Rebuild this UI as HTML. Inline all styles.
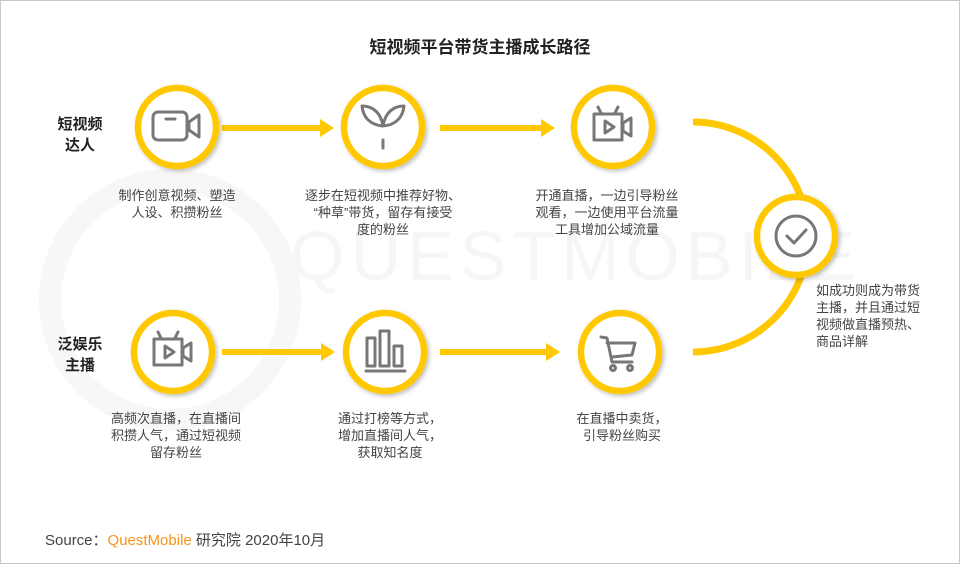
<!DOCTYPE html>
<html><head><meta charset="utf-8"><style>
html,body{margin:0;padding:0;}
body{width:960px;height:564px;position:relative;background:#fff;font-family:"Liberation Sans","Noto Sans CJK SC",sans-serif;overflow:hidden;}
.frame{position:absolute;left:0;top:0;width:958px;height:562px;border:1px solid #c8c8c8;}
.t{position:absolute;color:#444;font-size:13px;line-height:17px;text-align:center;white-space:nowrap;}
.lab{position:absolute;font-size:15px;font-weight:bold;color:#222;line-height:21px;text-align:center;}
</style></head><body>
<div class="frame"></div>
<svg width="960" height="564" style="position:absolute;left:0;top:0">
<defs><filter id="sh" x="-30%" y="-30%" width="160%" height="160%"><feDropShadow dx="2" dy="2" stdDeviation="2" flood-color="#000" flood-opacity="0.25"/></filter></defs>
<circle cx="170" cy="300" r="120" fill="none" stroke="#f7f7f7" stroke-width="22"/>
<text x="290" y="280" font-family="Liberation Sans" font-size="70" fill="#f6f6f6" letter-spacing="6">QUESTMOBILE</text>
<g fill="#FFC800">
<rect x="222" y="125" width="100" height="6"/><polygon points="320,119 334,128 320,137"/>
<rect x="440" y="125" width="103" height="6"/><polygon points="541,119 555,128 541,137"/>
<rect x="222" y="349" width="101" height="6"/><polygon points="321,343 335,352 321,361"/>
<rect x="440" y="349" width="108" height="6"/><polygon points="546,343 560,352 546,361"/>
</g>
<path d="M693,122 A115,115 0 0 1 693,352" fill="none" stroke="#FFC800" stroke-width="7"/>
<g fill="#fff" stroke="#FFC800" stroke-width="6.5" filter="url(#sh)">
<circle cx="177" cy="127" r="39"/><circle cx="383" cy="127" r="39"/><circle cx="613" cy="127" r="39"/>
<circle cx="173" cy="352" r="39"/><circle cx="385" cy="352" r="39"/><circle cx="620" cy="352" r="39"/>
<circle cx="796" cy="236" r="39"/>
</g>
<g fill="none" stroke="#777" stroke-width="3" stroke-linecap="round" stroke-linejoin="round">
<rect x="153" y="112" width="34" height="28" rx="5"/><line x1="166" y1="119" x2="175" y2="119"/><polygon points="189,122 199,115 199,137 189,130"/>
<path d="M383,126 C370,125 363,117 362,106 C373,106 381,113 383,126 C385,113 393,106 404,106 C403,117 396,125 383,126 Z"/><line x1="383" y1="140" x2="383" y2="148"/>
<g id="tv"><rect x="594" y="114" width="28" height="26"/><line x1="601" y1="113" x2="598" y2="107"/><line x1="615" y1="113" x2="618" y2="107"/><polygon points="605,121 614,127 605,133"/><polygon points="623,123 631,118 631,136 623,131"/></g>
<use href="#tv" transform="translate(-440,225)"/>
<rect x="367" y="338" width="8" height="28"/><rect x="380" y="331" width="9" height="35"/><rect x="394" y="346" width="8" height="20"/><line x1="366" y1="371" x2="405" y2="371"/>
<path d="M601,337 L607,338 L612,362 L632,362"/><path d="M607,343 L635,343 L632,355 L612,357"/><circle cx="613" cy="368" r="2.5"/><circle cx="630" cy="368" r="2.5"/>
<circle cx="796" cy="236" r="20"/><polyline points="787,236 794,243 806,230"/>
</g>
</svg>
<div style="position:absolute;left:0;width:960px;top:33px;text-align:center;font-size:17px;font-weight:bold;color:#222;">短视频平台带货主播成长路径</div>
<div class="lab" style="left:45px;top:114px;width:70px">短视频<br>达人</div>
<div class="lab" style="left:45px;top:334px;width:70px">泛娱乐<br>主播</div>
<div class="t" style="left:177px;top:187px;transform:translateX(-50%)">制作创意视频、塑造<br>人设、积攒粉丝</div>
<div class="t" style="left:383px;top:187px;transform:translateX(-50%)">逐步在短视频中推荐好物、<br>“种草”带货，留存有接受<br>度的粉丝</div>
<div class="t" style="left:607px;top:187px;transform:translateX(-50%)">开通直播，一边引导粉丝<br>观看，一边使用平台流量<br>工具增加公域流量</div>
<div class="t" style="left:816px;top:282px;text-align:left">如成功则成为带货<br>主播，并且通过短<br>视频做直播预热、<br>商品详解</div>
<div class="t" style="left:176px;top:410px;transform:translateX(-50%)">高频次直播，在直播间<br>积攒人气，通过短视频<br>留存粉丝</div>
<div class="t" style="left:390px;top:410px;transform:translateX(-50%)">通过打榜等方式，<br>增加直播间人气，<br>获取知名度</div>
<div class="t" style="left:622px;top:410px;transform:translateX(-50%)">在直播中卖货，<br>引导粉丝购买</div>
<div style="position:absolute;left:45px;top:529px;font-size:15px;color:#444;white-space:nowrap">Source：<span style="color:#f7941d">QuestMobile</span> 研究院 2020年10月</div>
</body></html>
